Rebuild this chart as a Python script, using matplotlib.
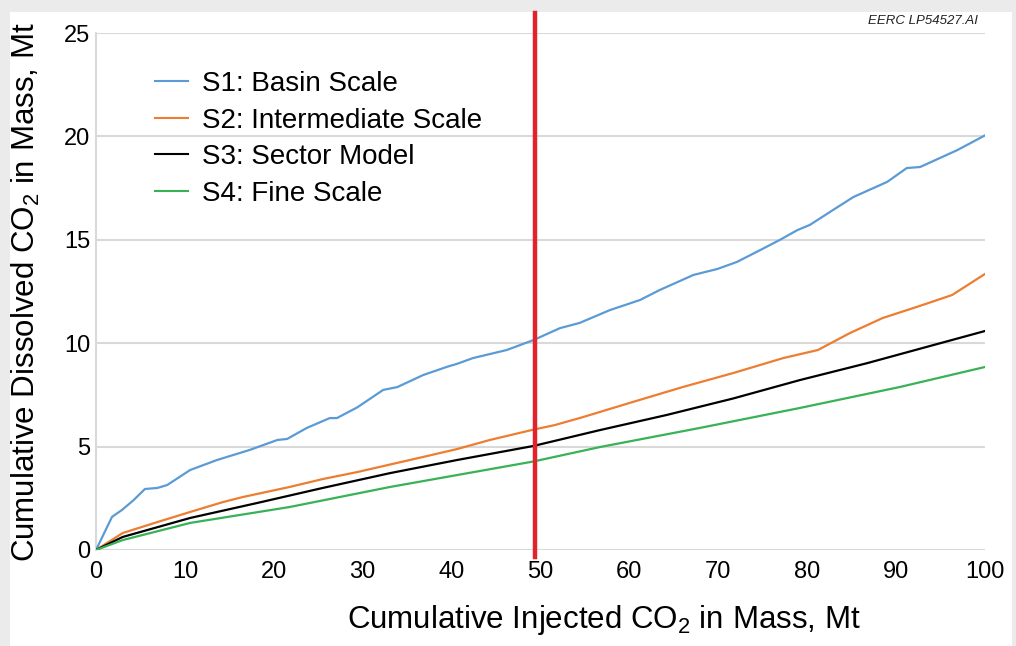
import matplotlib
matplotlib.use("Agg")
import matplotlib.pyplot as plt
from matplotlib.patches import Rectangle

# Cumulative injected CO2 (Mt) vs cumulative dissolved CO2 (Mt)
s1_x = [0, 1.8, 2.9, 4.2, 5.5, 6.9, 8.0, 10.6, 13.6, 17.3, 20.4, 21.5, 23.7, 26.3,
        27.1, 29.4, 32.3, 33.9, 36.8, 39.5, 40.6, 42.4, 46.2, 49.2, 52.2, 54.4,
        57.8, 61.2, 63.4, 67.2, 69.9, 72.1, 74.7, 76.9, 78.9, 80.3, 82.9, 85.2,
        89.0, 91.2, 92.7, 96.9, 100]
s1_y = [0, 1.6, 1.93, 2.4, 2.95, 3.0, 3.14, 3.87, 4.35, 4.84, 5.32, 5.37, 5.9, 6.38,
        6.38, 6.9, 7.74, 7.88, 8.46, 8.86, 9.0, 9.28, 9.67, 10.15, 10.73, 10.98,
        11.6, 12.09, 12.57, 13.3, 13.59, 13.93, 14.5, 14.99, 15.47, 15.72, 16.44,
        17.07, 17.8, 18.47, 18.52, 19.34, 20.05]

s2_x = [0, 3.0, 6.9, 10.6, 14.3, 16.5, 21.8, 25.5, 29.4, 36.8, 40.6, 44.3, 49.2,
        51.6, 54.8, 60.4, 66.0, 71.7, 77.3, 81.2, 84.8, 88.5, 92.3, 96.3, 100]
s2_y = [0, 0.82, 1.35, 1.84, 2.32, 2.56, 3.05, 3.43, 3.77, 4.5, 4.88, 5.32, 5.82,
        6.04, 6.43, 7.16, 7.88, 8.56, 9.28, 9.67, 10.49, 11.22, 11.75, 12.33, 13.35]

s3_x = [0, 3.0, 10.6, 18.1, 25.5, 33.1, 40.6, 49.2, 56.7, 64.2, 71.7, 79.2, 86.7,
        94.2, 100]
s3_y = [0, 0.63, 1.55, 2.27, 3.0, 3.72, 4.35, 5.03, 5.8, 6.53, 7.33, 8.22, 9.03,
        9.91, 10.59]

s4_x = [0, 3.0, 10.6, 21.8, 33.1, 49.2, 56.7, 67.9, 79.2, 90.4, 100]
s4_y = [0, 0.48, 1.31, 2.08, 3.05, 4.28, 4.98, 5.9, 6.87, 7.88, 8.85]

labels = ["S1: Basin Scale", "S2: Intermediate Scale", "S3: Sector Model",
          "S4: Fine Scale"]
colors = ["#5b9bd5", "#ed7d31", "#000000", "#38b257"]

marker_x = 49.4
x_ticks = list(range(0, 101, 10))
y_ticks = list(range(0, 26, 5))

plt.rcParams["font.family"] = ["Liberation Sans", "DejaVu Sans"]
plt.rcParams["mathtext.fontset"] = "custom"
plt.rcParams["mathtext.rm"] = "Liberation Sans"

W, H = 1016, 646
fig = plt.figure(figsize=(W / 100, H / 100), dpi=100, facecolor="#ebebeb")
fig.patches.append(Rectangle((10 / W, 0), (1012 - 10) / W, (H - 12) / H,
                             transform=fig.transFigure, facecolor="white",
                             edgecolor="none", zorder=-5))

ax = fig.add_axes([96 / W, 1 - 550 / H, (985 - 96) / W, (550 - 33) / H])
ax.set_facecolor("none")
ax.set_zorder(2)

series = [(s1_x, s1_y), (s2_x, s2_y), (s3_x, s3_y), (s4_x, s4_y)]
for (xs, ys), lab, col in zip(series, labels, colors):
    ax.plot(xs, ys, color=col, lw=1.6, label=lab, zorder=3)

ax.axvline(marker_x, ymin=-0.0135, ymax=1.039, color="#e3232c", lw=3.2,
           clip_on=False, zorder=4)

ax.set_xlim(0, 100)
ax.set_ylim(0, 25)
ax.set_xticks(x_ticks)
ax.set_yticks(y_ticks)
ax.tick_params(length=0, labelsize=17)
ax.tick_params(axis="x", pad=8)
ax.tick_params(axis="y", pad=4)
ax.grid(axis="y", color="#d9d9d9", lw=1.5)
ax.set_axisbelow(True)
for side in ["top", "right", "bottom"]:
    ax.spines[side].set_visible(False)
ax.spines["left"].set_color("#d9d9d9")
ax.spines["left"].set_linewidth(1.5)

# axis titles
fig.text(604 / W, 1 - 620 / H, r"Cumulative Injected CO$_\mathregular{2}$ in Mass, Mt",
         ha="center", va="center", fontsize=22.5)
fig.text(26 / W, 1 - 292 / H, r"Cumulative Dissolved CO$_\mathregular{2}$ in Mass, Mt",
         ha="center", va="center", rotation=90, fontsize=22.5)

leg = ax.legend(loc="upper left", bbox_to_anchor=(155 / W, 1 - 71 / H),
                bbox_transform=fig.transFigure, frameon=False, fontsize=20,
                handlelength=1.19, handletextpad=0.5, labelspacing=0.38,
                borderpad=0, borderaxespad=0)
for line in leg.get_lines():
    line.set_linewidth(1.5)

fig.text(978 / W, 1 - 21 / H, "EERC LP54527.AI", ha="right", va="center",
         fontsize=9.5, style="italic", color="#222222")

fig.savefig("out.png", dpi=100, facecolor=fig.get_facecolor())
